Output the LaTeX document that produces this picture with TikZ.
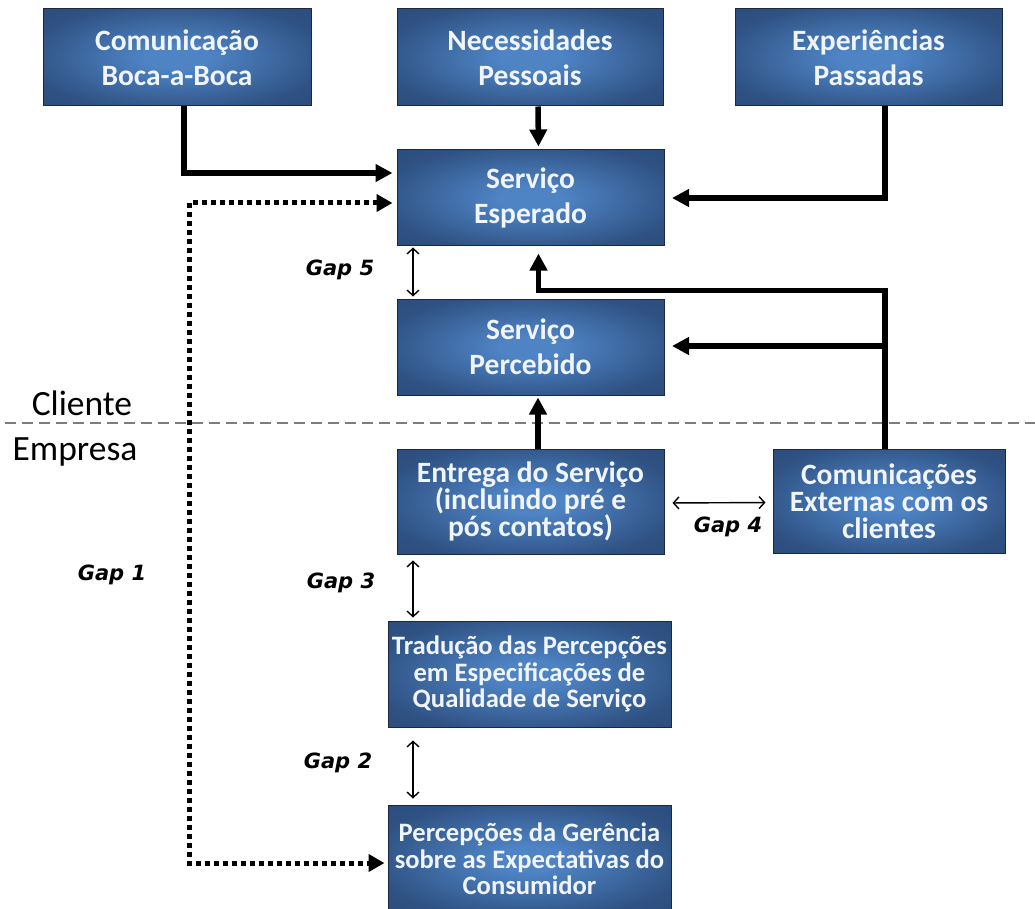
\documentclass[tikz,border=0pt]{standalone}
\usepackage{fontspec}
\setmainfont{Carlito}
\newfontfamily\gapfont{DejaVu Sans}
\usetikzlibrary{arrows.meta}
\definecolor{bc}{RGB}{78,131,196}
\definecolor{be}{RGB}{37,66,110}
\definecolor{bord}{RGB}{26,40,66}
\definecolor{txt}{RGB}{240,244,251}
\definecolor{sepgray}{RGB}{125,125,125}
\pgfdeclareradialshading{boxshade}{\pgfpoint{0bp}{0bp}}{color(0bp)=(bc); color(6bp)=(bc); color(28bp)=(be!75!bc); color(50bp)=(be); color(72bp)=(be!85!black)}
\begin{document}
\begin{tikzpicture}[x=1pt,y=-1pt,
  box/.style={draw=bord, line width=1pt, shading=boxshade, text=txt, align=center, inner sep=0pt},
  bigtxt/.style={font=\fontsize{29.5}{35}\selectfont\bfseries},
  midtxt/.style={font=\fontsize{29.5}{27}\selectfont\bfseries},
  cetxt/.style={font=\fontsize{29.5}{27}\selectfont\bfseries},
  smalltxt/.style={font=\fontsize{26.6}{26.5}\selectfont\bfseries},
  flow/.style={line width=5.5pt, -{Triangle[length=17pt,width=17pt]}},
  dotflow/.style={line width=5pt, dash pattern=on 5pt off 4pt, {Triangle[length=16pt,width=17pt]}-{Triangle[length=16pt,width=17pt]}},
  gaparrow/.style={line width=1.4pt, {Straight Barb[length=5.5pt,width=12pt]}-{Straight Barb[length=5.5pt,width=12pt]}},
  gaplabel/.style={font=\gapfont\bfseries\itshape\fontsize{21}{21}\selectfont, inner sep=0pt},
  side/.style={font=\fontsize{35.5}{35.5}\selectfont, inner sep=0pt, anchor=base},
]
\useasboundingbox[fill=white] (0,0) rectangle (1035,909);

% separator
\coordinate (dl) at (0,423);
\coordinate (dr) at (1035,423);
\draw[sepgray, line width=2.5pt, dash pattern=on 11pt off 6pt, dash phase=-22pt] (dl) -- (dr);

% boxes
\node[box, bigtxt, minimum width=268pt, minimum height=97pt] (cbb) at (177,57.5) {Comunicação\\Boca-a-Boca};
\node[box, bigtxt, minimum width=266pt, minimum height=97pt] (np) at (530,57.5) {Necessidades\\Pessoais};
\node[box, bigtxt, minimum width=267pt, minimum height=97pt] (ep) at (868.5,57.5) {Experiências\\Passadas};
\node[box, bigtxt, minimum width=267pt, minimum height=96pt] (se) at (530.5,198) {Serviço\\Esperado};
\node[box, bigtxt, minimum width=267pt, minimum height=96pt] (sp) at (530.5,347) {Serviço\\Percebido};
\node[box, midtxt, minimum width=267pt, minimum height=105pt] (es) at (530.5,501.5) {Entrega do Serviço\\(incluindo pré e\\pós contatos)};
\node[box, cetxt, minimum width=232pt, minimum height=104pt] (ce) at (889,501) {Comunicações\\Externas com os\\clientes};
\node[box, smalltxt, minimum width=283pt, minimum height=106pt] (tp) at (529.5,674) {Tradução das Percepções\\em Especificações de\\Qualidade de Serviço};
\node[box, smalltxt, minimum width=283pt, minimum height=108pt] (pg) at (529.5,859) {Percepções da Gerência\\sobre as Expectativas do\\Consumidor};

% side labels
\node[side] (cli) at (82,415) {Cliente};
\node[side] (emp) at (75,460) {Empresa};

% gap labels
\node[gaplabel] (g5) at (340,270) {Gap 5};
\node[gaplabel] (g4) at (728,527) {Gap 4};
\node[gaplabel] (g3) at (341,583) {Gap 3};
\node[gaplabel] (g2) at (338,763) {Gap 2};
\node[gaplabel] (g1) at (112,575) {Gap 1};

% solid flows
\draw[flow, shorten >=4pt] ([xshift=7pt]cbb.south) |- ([yshift=25pt]se.west);
\draw[flow, shorten >=3pt] ([xshift=8pt]np.south) -- ([xshift=8pt]se.north);
\draw[flow, shorten >=7.5pt] ([xshift=16.5pt]ep.south) |- (se.east);
\draw[flow, shorten >=7pt] ([xshift=-4pt]ce.north) |- ([xshift=8pt,yshift=-44pt]se.south) -- ([xshift=8pt]se.south);
\draw[flow, shorten >=7.5pt] ([xshift=-4pt]ce.north) |- ([yshift=1pt]sp.east);
\draw[flow, shorten >=2pt] ([xshift=7.5pt]es.north) -- ([xshift=7.5pt]sp.south);

% dotted Gap 1 connector
\coordinate (gc) at (189,863);
\draw[dotflow, shorten <=4pt, shorten >=3pt] ([yshift=-5pt]se.west) -| (gc) -- ([yshift=-4pt]pg.west);

% gap arrows
\draw[gaparrow, shorten <=1pt, shorten >=2pt] ([xshift=-117.5pt]se.south) -- ([xshift=-117.5pt]sp.north);
\draw[gaparrow, shorten <=8pt, shorten >=7pt] ([yshift=-1.5pt]es.east) -- ([yshift=-1.5pt]ce.west);
\draw[gaparrow, shorten <=6pt, shorten >=3pt] ([xshift=-117.5pt]es.south) -- ([xshift=-116.5pt]tp.north);
\draw[gaparrow, shorten <=13pt, shorten >=6pt] ([xshift=-116.5pt]tp.south) -- ([xshift=-116.5pt]pg.north);
\end{tikzpicture}
\end{document}
